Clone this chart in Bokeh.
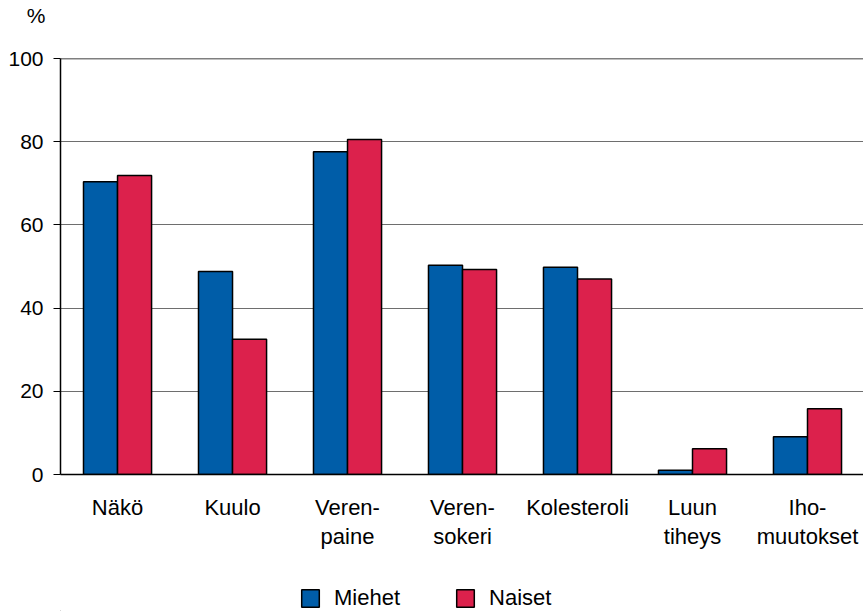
from bokeh.plotting import figure
from bokeh.layouts import column
from bokeh.models import (Range1d, LinearAxis, FixedTicker, Legend, LegendItem,
                          Span)
from bokeh.embed import file_html
from bokeh.resources import INLINE

categories = ["Näkö", "Kuulo", "Verenpaine", "Verensokeri", "Kolesteroli",
              "Luun tiheys", "Ihomuutokset"]
label_line1 = ["Näkö", "Kuulo", "Veren-", "Veren-", "Kolesteroli", "Luun", "Iho-"]
label_line2 = ["", "", "paine", "sokeri", "", "tiheys", "muutokset"]
series_names = ["Miehet", "Naiset"]
miehet = [70.4, 48.8, 77.6, 50.3, 49.8, 1.0, 9.1]
naiset = [71.9, 32.5, 80.5, 49.3, 47.0, 6.2, 15.8]
y_ticks = [0, 20, 40, 60, 80, 100]
unit_label = "%"

BLUE = "#005DA8"
RED = "#DC214C"
FONT = "Liberation Sans"
FS_X = "22px"
FS_Y = "21px"

W = 863
idx = list(range(len(categories)))
bar_w = 0.296


def bare(fig):
    fig.outline_line_color = None
    fig.background_fill_color = "white"
    fig.border_fill_color = "white"
    fig.xgrid.visible = False
    fig.ygrid.visible = False


# ---- top strip holding the unit label "%" ----
top = figure(width=W, height=30, output_backend="svg", toolbar_location=None,
             x_range=Range1d(0, 1), y_range=Range1d(0, 1),
             x_axis_location=None, y_axis_location="left",
             min_border_left=60, min_border_right=0, min_border_top=0,
             min_border_bottom=0)
bare(top)
ua = top.yaxis[0]
ua.ticker = FixedTicker(ticks=[0.5])
ua.major_label_overrides = {0.5: unit_label}
ua.axis_line_color = None
ua.major_tick_line_color = None
ua.minor_tick_line_color = None
ua.major_tick_out = 0
ua.major_tick_in = 0
ua.major_label_standoff = 15
ua.major_label_text_font = FONT
ua.major_label_text_font_size = FS_Y
ua.major_label_text_color = "black"

# ---- main chart ----
p = figure(width=W, height=535, output_backend="svg", toolbar_location=None,
           x_range=Range1d(-0.496, 6.487), y_range=Range1d(0, 100),
           x_axis_location=None, y_axis_location="left",
           min_border_left=60, min_border_top=28, min_border_right=0,
           min_border_bottom=91)
bare(p)
p.ygrid.visible = True
p.ygrid.ticker = FixedTicker(ticks=y_ticks)
p.ygrid.grid_line_color = "#6e6e6e"
p.ygrid.grid_line_width = 1.2
p.add_layout(Span(location=y_ticks[-1], dimension="width", line_color="black",
                  line_width=1.5))

ya = p.yaxis[0]
ya.ticker = FixedTicker(ticks=y_ticks)
ya.axis_line_color = "black"
ya.axis_line_width = 1.5
ya.major_tick_out = 7
ya.major_tick_in = 0
ya.major_tick_line_color = "black"
ya.minor_tick_line_color = None
ya.major_label_text_font = FONT
ya.major_label_text_font_size = FS_Y
ya.major_label_text_color = "black"
ya.major_label_standoff = 10

ax1 = LinearAxis(ticker=FixedTicker(ticks=idx),
                 major_label_overrides={i: t for i, t in zip(idx, label_line1)})
ax1.axis_line_color = "black"
ax1.axis_line_width = 1.5
ax1.major_tick_line_color = None
ax1.minor_tick_line_color = None
ax1.major_tick_out = 0
ax1.major_tick_in = 0
ax1.major_label_standoff = 20
ax1.major_label_text_font = FONT
ax1.major_label_text_font_size = FS_X
ax1.major_label_text_color = "black"
p.add_layout(ax1, "below")

ax2 = LinearAxis(ticker=FixedTicker(ticks=idx),
                 major_label_overrides={i: t for i, t in zip(idx, label_line2)})
ax2.axis_line_color = None
ax2.major_tick_line_color = None
ax2.minor_tick_line_color = None
ax2.major_tick_out = 0
ax2.major_tick_in = 0
ax2.major_label_standoff = 1
ax2.major_label_text_font = FONT
ax2.major_label_text_font_size = FS_X
ax2.major_label_text_color = "black"
p.add_layout(ax2, "below")

p.vbar(x=[i - bar_w / 2 for i in idx], top=miehet, bottom=0, width=bar_w,
       fill_color=BLUE, line_color="black", line_width=1.5)
p.vbar(x=[i + bar_w / 2 for i in idx], top=naiset, bottom=0, width=bar_w,
       fill_color=RED, line_color="black", line_width=1.5)

# ---- legend strip ----
lg = figure(width=W, height=46, output_backend="svg", toolbar_location=None,
            x_range=Range1d(0, 1), y_range=Range1d(0, 1),
            x_axis_location=None, y_axis_location=None,
            min_border_left=60, min_border_right=0, min_border_top=0,
            min_border_bottom=0)
bare(lg)
# legend proxies: one swatch each, placed outside the visible range
lr1 = lg.vbar(x=[-5], top=[-5], bottom=[-6], width=0.1, fill_color=BLUE,
              line_color="black", line_width=1.5)
lr2 = lg.vbar(x=[-5], top=[-5], bottom=[-6], width=0.1, fill_color=RED,
              line_color="black", line_width=1.5)
legend = Legend(items=[LegendItem(label=series_names[0], renderers=[lr1]),
                       LegendItem(label=series_names[1], renderers=[lr2])],
                orientation="horizontal", location=(239, 0),
                glyph_width=22, glyph_height=22, label_standoff=13, spacing=54,
                label_text_font=FONT, label_text_font_size=FS_X,
                label_text_color="black", border_line_color=None,
                background_fill_alpha=0, margin=0, padding=3)
lg.add_layout(legend, "center")

layout = column(top, p, lg, spacing=0)
open("out.html", "w").write(file_html(layout, INLINE))
